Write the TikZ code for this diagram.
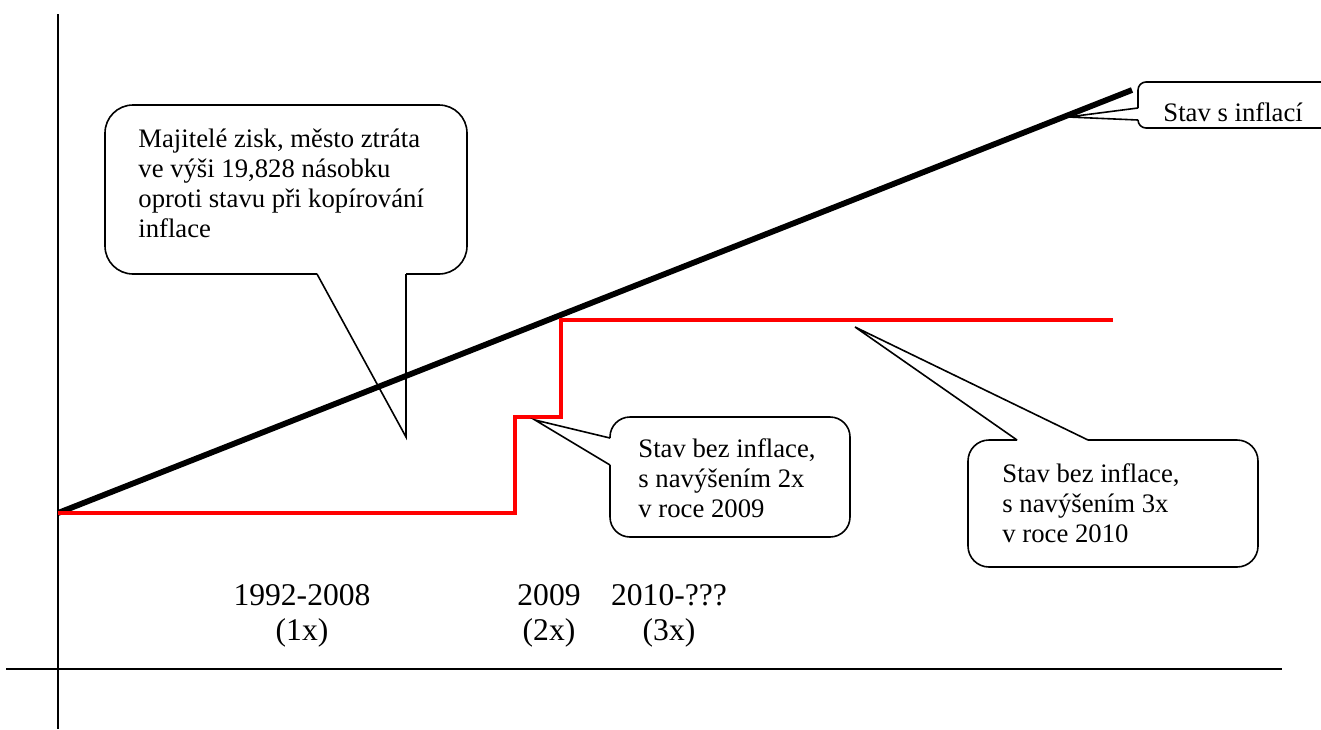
\documentclass[tikz,border=0pt]{standalone}
\usepackage{fontspec}
\setmainfont{Liberation Serif}

\begin{document}
\begin{tikzpicture}[x=0.5pt, y=-0.5pt,
    axis/.style={line width=0.8pt},
    bubble/.style={line width=0.8pt, line join=miter},
    bubbletext/.style={inner sep=0pt, align=left, anchor=north west,
      font=\fontsize{13.35}{15}\selectfont},
    yearlabel/.style={inner sep=0pt, align=center, anchor=north,
      font=\fontsize{15.8}{17.5}\selectfont}]
  \useasboundingbox (0,0) rectangle (1321,729);
  \clip (0,0) rectangle (1321,729);

  % axes
  \coordinate (ytop) at (58,14);
  \coordinate (ybot) at (58,729);
  \coordinate (xleft) at (6,669);
  \coordinate (xright) at (1282,669);
  \draw[axis] (ytop) -- (ybot);
  \draw[axis] (xleft) -- (xright);

  % with inflation / without inflation
  \coordinate (start) at (58,513);
  \coordinate (inflend) at (1132,90);
  \coordinate (flatend) at (1113,320);
  \draw[line width=2.9pt] (start) -- (inflend);
  \draw[red, line width=2.4pt] (start) -- (515,513) -- (515,417) -- (561,417)
    -- (561,320) -- (flatend);

  % callout: owners
  \coordinate (tipzisk) at (406,437);
  \draw[bubble, rounded corners=14pt] (406,274) -- (467,274) -- (467,105)
    -- (105,105) -- (105,274) -- (317,274);
  \draw[bubble] (317,274) -- (tipzisk) -- (406,274);
  \node[bubbletext] (zisk) at (138,129)
    {Majitelé zisk, město ztráta\\ve výši 19,828 násobku\\oproti stavu při kopírování\\inflace};

  % callout: 2x in 2009
  \coordinate (tipdva) at (535,420);
  \draw[bubble, rounded corners=10pt] (610,465) -- (610,537) -- (850,537)
    -- (850,417) -- (610,417) -- (610,438);
  \draw[bubble] (610,438) -- (tipdva) -- (610,465);
  \node[bubbletext] (dva) at (638,438)
    {Stav bez inflace,\\s navýšením 2x\\v roce 2009};

  % callout: 3x in 2010
  \coordinate (tiptri) at (855,327);
  \draw[bubble, rounded corners=10.5pt] (1088,440) -- (1258,440) -- (1258,567)
    -- (968,567) -- (968,440) -- (1017,440);
  \draw[bubble] (1017,440) -- (tiptri) -- (1088,440);
  \node[bubbletext] (tri) at (1002,463)
    {Stav bez inflace,\\s navýšením 3x\\v roce 2010};

  % callout: with inflation
  \coordinate (tipinfl) at (1068,117);
  \draw[bubble, rounded corners=4pt] (1138,120) -- (1138,128) -- (1335,128)
    -- (1335,82) -- (1138,82) -- (1138,108);
  \draw[bubble] (1138,108) -- (tipinfl) -- (1138,120);
  \node[bubbletext] (infl) at (1163,102) {Stav s inflací};

  % years
  \node[yearlabel] (lab1992) at (302,584) {1992-2008\\(1x)};
  \node[yearlabel] (lab2009) at (549,584) {2009\\(2x)};
  \node[yearlabel] (lab2010) at (669,584) {2010-???\\(3x)};
\end{tikzpicture}
\end{document}
